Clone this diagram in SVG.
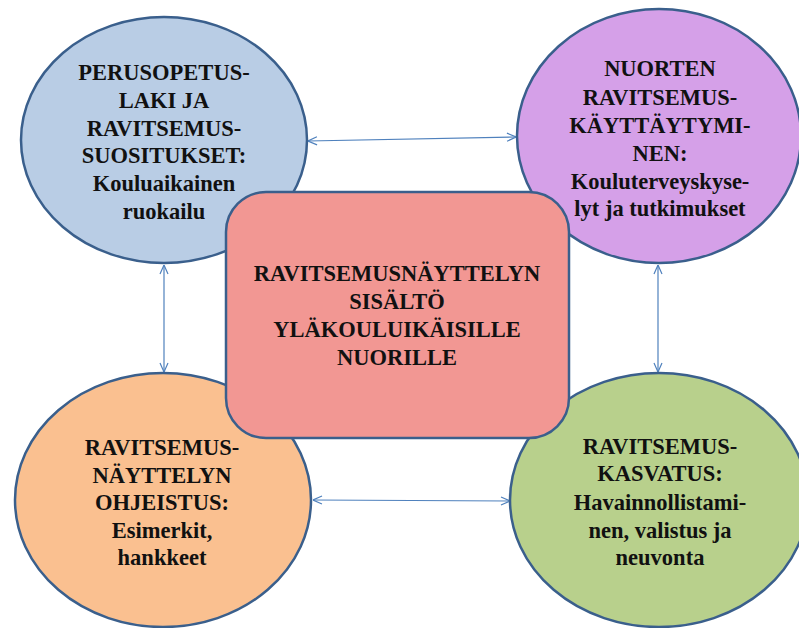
<svg xmlns="http://www.w3.org/2000/svg" width="799" height="628" viewBox="0 0 799 628">
<style>
.node{stroke:#3a5f8c;stroke-width:2.5}
.c{stroke:#4f81bd;stroke-width:1.2;fill:none;marker-start:url(#ah);marker-end:url(#ah)}
</style>
<defs>
<marker id="ah" viewBox="0 0 10 10" refX="10" refY="5" markerWidth="10" markerHeight="10" markerUnits="userSpaceOnUse" orient="auto-start-reverse">
<path d="M1,1 L10,5 L1,9" fill="none" stroke="#4f81bd" stroke-width="1.2"/>
</marker>
</defs>
<rect width="799" height="628" fill="#fff"/>
<g id="connectors">
<line class="c" x1="308" y1="141" x2="516" y2="137"/>
<line class="c" x1="164" y1="265" x2="164" y2="372"/>
<line class="c" x1="313" y1="500" x2="510" y2="501"/>
<line class="c" x1="658" y1="265" x2="658" y2="372"/>
</g>
<g id="n-perusopetus">
<ellipse class="node" cx="164" cy="140" rx="143" ry="123" fill="#b9cde5"/>
<g font-family="Liberation Serif, serif" font-size="22.5" font-weight="bold" fill="#111" text-anchor="middle">
<text x="164" y="80">PERUSOPETUS-</text>
<text x="164" y="108">LAKI JA</text>
<text x="164" y="136">RAVITSEMUS-</text>
<text x="164" y="163">SUOSITUKSET:</text>
<text x="164" y="191">Kouluaikainen</text>
<text x="164" y="219">ruokailu</text>
</g>
</g>
<g id="n-nuorten">
<ellipse class="node" cx="659" cy="136" rx="142" ry="127" fill="#d5a0e8"/>
<g font-family="Liberation Serif, serif" font-size="22.5" font-weight="bold" fill="#111" text-anchor="middle">
<text x="660" y="76">NUORTEN</text>
<text x="660" y="105">RAVITSEMUS-</text>
<text x="660" y="133">KÄYTTÄYTYMI-</text>
<text x="660" y="161">NEN:</text>
<text x="660" y="189">Kouluterveyskyse-</text>
<text x="660" y="216">lyt ja tutkimukset</text>
</g>
</g>
<g id="n-ohjeistus">
<ellipse class="node" cx="163" cy="500" rx="148" ry="127" fill="#fac090"/>
<g font-family="Liberation Serif, serif" font-size="22.5" font-weight="bold" fill="#111" text-anchor="middle">
<text x="162" y="455">RAVITSEMUS-</text>
<text x="162" y="483">NÄYTTELYN</text>
<text x="162" y="510">OHJEISTUS:</text>
<text x="162" y="538">Esimerkit,</text>
<text x="162" y="565">hankkeet</text>
</g>
</g>
<g id="n-kasvatus">
<ellipse class="node" cx="659" cy="500" rx="149" ry="127" fill="#b8d08c"/>
<g font-family="Liberation Serif, serif" font-size="22.5" font-weight="bold" fill="#111" text-anchor="middle">
<text x="660" y="454">RAVITSEMUS-</text>
<text x="660" y="481">KASVATUS:</text>
<text x="660" y="510">Havainnollistami-</text>
<text x="660" y="538">nen, valistus ja</text>
<text x="660" y="565">neuvonta</text>
</g>
</g>
<g id="n-center">
<rect class="node" x="226" y="192" width="343" height="246" rx="40" ry="40" fill="#f29793"/>
<g font-family="Liberation Serif, serif" font-size="22.5" font-weight="bold" fill="#111" text-anchor="middle">
<text x="397" y="281">RAVITSEMUSNÄYTTELYN</text>
<text x="397" y="309">SISÄLTÖ</text>
<text x="397" y="337">YLÄKOULUIKÄISILLE</text>
<text x="397" y="365">NUORILLE</text>
</g>
</g>
</svg>
